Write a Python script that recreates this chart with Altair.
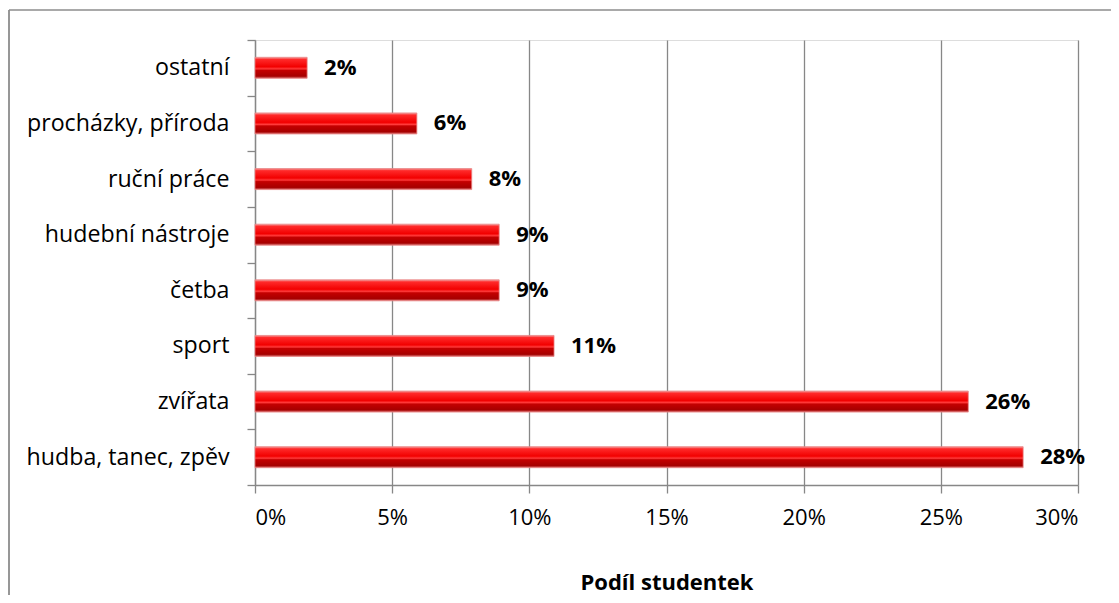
import altair as alt
import pandas as pd

categories = ["ostatní", "procházky, příroda", "ruční práce", "hudební nástroje",
              "četba", "sport", "zvířata", "hudba, tanec, zpěv"]
values = [0.019, 0.059, 0.079, 0.089, 0.089, 0.109, 0.260, 0.280]
x_ticks = [0, 0.05, 0.10, 0.15, 0.20, 0.25, 0.30]

df = pd.DataFrame({"cat": categories, "val": values})
frame_df = pd.DataFrame({"k": [0]})

FONT = "Open Sans"
GRAY = "#878787"

grad = alt.Gradient(
    gradient="linear", x1=0, y1=0, x2=0, y2=1,
    stops=[
        alt.GradientStop(color="#f4a3a3", offset=0.0),
        alt.GradientStop(color="#ff2a2a", offset=0.1),
        alt.GradientStop(color="#f20000", offset=0.45),
        alt.GradientStop(color="#ff3a3a", offset=0.55),
        alt.GradientStop(color="#c40000", offset=0.62),
        alt.GradientStop(color="#a60000", offset=0.9),
        alt.GradientStop(color="#d97070", offset=1.0),
    ],
)

y_enc = alt.Y(
    "cat:N", sort=categories, title=None,
    scale=alt.Scale(paddingInner=0, paddingOuter=0),
    axis=alt.Axis(
        labelFont=FONT, labelFontSize=23.2, labelColor="#000000",
        labelPadding=18, tickSize=8, tickColor=GRAY, tickWidth=1.3,
        domainColor=GRAY, domainWidth=1.3, tickBand="extent", grid=False,
        labelLimit=400,
    ),
)

x_enc = alt.X(
    "val:Q", title="Podíl studentek",
    scale=alt.Scale(domain=[0, 0.30], nice=False),
    axis=alt.Axis(
        values=x_ticks, format=".0%",
        labelFont=FONT, labelFontSize=22, labelColor="#000000",
        labelPadding=14, tickSize=8, tickColor=GRAY, tickWidth=1.3,
        domainColor=GRAY, domainWidth=1.3,
        grid=True, gridColor=GRAY, gridWidth=1.3,
        titleFont=FONT, titleFontSize=22, titleFontWeight="bold",
        titleColor="#000000", titlePadding=44,
    ),
)

bars = alt.Chart(df).mark_bar(
    color=grad, stroke="#e88080", strokeWidth=0.8, size=21
).encode(x=x_enc, y=y_enc)

labels = alt.Chart(df).mark_text(
    align="left", baseline="middle", dx=17, font=FONT, fontSize=22,
    fontWeight="bold", color="#000000"
).encode(
    x="val:Q", y=alt.Y("cat:N", sort=categories),
    text=alt.Text("val:Q", format=".0%"),
)

frame_left = alt.Chart(frame_df).mark_rule(color="#8c8c8c", strokeWidth=1.8).encode(
    x=alt.value(-246), y=alt.value(-30), y2=alt.value(620)
)
frame_top = alt.Chart(frame_df).mark_rule(color="#8c8c8c", strokeWidth=1.5).encode(
    x=alt.value(-246), x2=alt.value(900), y=alt.value(-30)
)

chart = alt.layer(frame_left, frame_top, bars, labels).properties(
    width=823, height=445,
    autosize=alt.AutoSizeParams(type="none"),
    padding={"left": 247, "top": 32, "right": 33, "bottom": 110},
).configure_view(stroke=None).configure(background="white")

chart.save("out.html", embed_options={"renderer": "svg", "actions": False})
